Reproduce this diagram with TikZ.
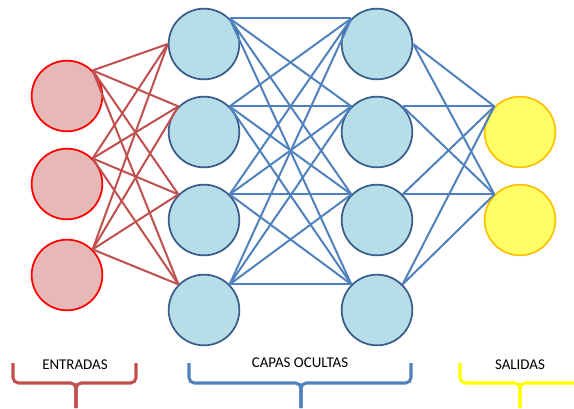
\documentclass[tikz,border=0pt]{standalone}
\usepackage{fontspec}
\setmainfont{Carlito}
\usetikzlibrary{positioning}

\definecolor{rellenoRojo}{HTML}{E6B8B7}
\definecolor{bordeRojo}{HTML}{FF0000}
\definecolor{lineaRoja}{HTML}{C0504D}
\definecolor{rellenoAzul}{HTML}{B7DEE8}
\definecolor{bordeAzul}{HTML}{385D8A}
\definecolor{lineaAzul}{HTML}{4F81BD}
\definecolor{rellenoAmarillo}{HTML}{FFFF66}
\definecolor{bordeAmarillo}{HTML}{FFC000}
\definecolor{llaveAmarilla}{HTML}{FFFF00}

\begin{document}
\begin{tikzpicture}[x=0.75pt,y=-0.75pt,
 neurona/.style={circle,minimum size=53pt,inner sep=0pt,line width=1.3pt},
 entrada/.style={neurona,draw=bordeRojo,fill=rellenoRojo},
 oculta/.style={neurona,draw=bordeAzul,fill=rellenoAzul},
 salida/.style={neurona,draw=bordeAmarillo,fill=rellenoAmarillo},
 conexRoja/.style={draw=lineaRoja,line width=1.5pt},
 conexAzul/.style={draw=lineaAzul,line width=1.5pt},
 llave/.style={line width=2.3pt,rounded corners=4pt},
 etiqueta/.style={font=\fontsize{11.2}{13}\selectfont}]
 \useasboundingbox (0,0) rectangle (574,408);
 \foreach \i/\y in {1/96,2/184,3/275} \node[entrada] (e\i) at (67,\y) {};
 \foreach \i/\y in {1/44,2/132,3/220,4/310} {
  \node[oculta] (a\i) at (204,\y) {};
  \node[oculta] (b\i) at (377,\y) {};}
 \node[salida] (s1) at (520,132) {};
 \node[salida] (s2) at (520,220) {};
 \foreach \i in {1,2,3} {
  \draw[conexRoja] (e\i.north east) -- (a1.west);
  \foreach \j in {2,3,4} \draw[conexRoja] (e\i.north east) -- (a\j.north west);}
 \foreach \i in {1,...,4} \foreach \j in {1,...,4}
  \draw[conexAzul] (a\i.north east) -- (b\j.north west);
 \foreach \j in {1,2} {
  \draw[conexAzul] (b1.east) -- (s\j.north west);
  \foreach \i in {2,3,4} \draw[conexAzul] (b\i.north east) -- (s\j.north west);}
 \draw[llave,lineaRoja] (13,363) |- (76,383) -- (76,408);
 \draw[llave,lineaRoja] (136,363) |- (76,383) -- (76,408);
 \draw[llave,lineaAzul] (189,363) |- (301,383) -- (301,408);
 \draw[llave,lineaAzul] (411,363) |- (301,383) -- (301,408);
 \draw[llave,llaveAmarilla] (460,363) |- (520,383) -- (520,408);
 \draw[llave,llaveAmarilla] (574,383) -- (520,383) -- (520,408);
 \node[etiqueta] (tEntradas) at (75,365) {ENTRADAS};
 \node[etiqueta] (tOcultas) at (300,363) {CAPAS OCULTAS};
 \node[etiqueta] (tSalidas) at (520,365) {SALIDAS};
\end{tikzpicture}
\end{document}
